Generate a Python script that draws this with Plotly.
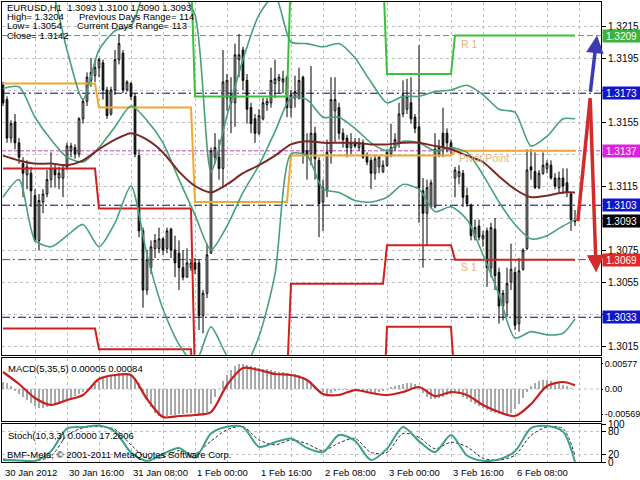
import plotly.graph_objects as go

# ---------------- DATA ----------------
N = 144
bars = list(range(N))

opens = [
    1.3178, 1.3169, 1.3145, 1.3155, 1.3142, 1.3129, 1.3122, 1.3123,
    1.3109, 1.3081, 1.3105, 1.3110, 1.3119, 1.3126, 1.3120, 1.3120,
    1.3127, 1.3137, 1.3139, 1.3135, 1.3157, 1.3168, 1.3181, 1.3184,
    1.3189, 1.3192, 1.3175, 1.3160, 1.3175, 1.3194, 1.3198, 1.3175,
    1.3179, 1.3171, 1.3134, 1.3087, 1.3050, 1.3064, 1.3076, 1.3076,
    1.3082, 1.3076, 1.3088, 1.3075, 1.3073, 1.3064, 1.3058, 1.3064,
    1.3067, 1.3067, 1.3034, 1.3048, 1.3073, 1.3133, 1.3133, 1.3126,
    1.3170, 1.3172, 1.3167, 1.3194, 1.3200, 1.3181, 1.3164, 1.3157,
    1.3148, 1.3157, 1.3166, 1.3167, 1.3179, 1.3181, 1.3180, 1.3183,
    1.3164, 1.3170, 1.3170, 1.3183, 1.3137, 1.3135, 1.3148, 1.3131,
    1.3105, 1.3112, 1.3136, 1.3162, 1.3164, 1.3148, 1.3145, 1.3139,
    1.3142, 1.3139, 1.3142, 1.3134, 1.3131, 1.3123, 1.3127, 1.3124,
    1.3128, 1.3135, 1.3139, 1.3142, 1.3160, 1.3163, 1.3167, 1.3158,
    1.3152, 1.3112, 1.3098, 1.3102, 1.3102, 1.3135, 1.3148, 1.3148,
    1.3142, 1.3120, 1.3121, 1.3123, 1.3109, 1.3103, 1.3083, 1.3090,
    1.3082, 1.3087, 1.3064, 1.3088, 1.3061, 1.3040, 1.3042, 1.3055,
    1.3061, 1.3029, 1.3063, 1.3076, 1.3127, 1.3124, 1.3114, 1.3123,
    1.3126, 1.3128, 1.3120, 1.3114, 1.3120, 1.3117, 1.3110, 1.3093,
]
highs = [
    1.3180, 1.3171, 1.3156, 1.3160, 1.3145, 1.3133, 1.3131, 1.3127,
    1.3113, 1.3110, 1.3113, 1.3125, 1.3136, 1.3129, 1.3127, 1.3128,
    1.3142, 1.3142, 1.3141, 1.3158, 1.3170, 1.3186, 1.3195, 1.3194,
    1.3195, 1.3194, 1.3177, 1.3177, 1.3200, 1.3210, 1.3200, 1.3181,
    1.3180, 1.3173, 1.3138, 1.3089, 1.3075, 1.3081, 1.3085, 1.3089,
    1.3083, 1.3089, 1.3089, 1.3084, 1.3081, 1.3075, 1.3076, 1.3069,
    1.3070, 1.3069, 1.3050, 1.3079, 1.3139, 1.3148, 1.3144, 1.3200,
    1.3185, 1.3183, 1.3204, 1.3210, 1.3202, 1.3185, 1.3167, 1.3160,
    1.3163, 1.3170, 1.3170, 1.3189, 1.3194, 1.3185, 1.3187, 1.3184,
    1.3175, 1.3184, 1.3189, 1.3184, 1.3148, 1.3190, 1.3152, 1.3133,
    1.3119, 1.3144, 1.3183, 1.3183, 1.3167, 1.3151, 1.3147, 1.3148,
    1.3145, 1.3145, 1.3144, 1.3136, 1.3133, 1.3134, 1.3134, 1.3131,
    1.3138, 1.3154, 1.3148, 1.3167, 1.3181, 1.3182, 1.3183, 1.3160,
    1.3203, 1.3120, 1.3119, 1.3119, 1.3148, 1.3144, 1.3164, 1.3151,
    1.3144, 1.3127, 1.3128, 1.3125, 1.3114, 1.3104, 1.3094, 1.3094,
    1.3087, 1.3089, 1.3092, 1.3095, 1.3064, 1.3050, 1.3064, 1.3079,
    1.3064, 1.3070, 1.3076, 1.3138, 1.3138, 1.3136, 1.3125, 1.3136,
    1.3131, 1.3131, 1.3123, 1.3124, 1.3126, 1.3126, 1.3111, 1.3100,
]
lows = [
    1.3165, 1.3142, 1.3142, 1.3138, 1.3129, 1.3108, 1.3113, 1.3102,
    1.3080, 1.3075, 1.3098, 1.3108, 1.3114, 1.3114, 1.3113, 1.3108,
    1.3125, 1.3133, 1.3132, 1.3133, 1.3154, 1.3165, 1.3177, 1.3180,
    1.3183, 1.3169, 1.3157, 1.3159, 1.3172, 1.3191, 1.3173, 1.3174,
    1.3169, 1.3133, 1.3083, 1.3039, 1.3047, 1.3060, 1.3070, 1.3073,
    1.3072, 1.3073, 1.3070, 1.3058, 1.3050, 1.3056, 1.3058, 1.3062,
    1.3060, 1.3025, 1.3023, 1.3045, 1.3073, 1.3129, 1.3119, 1.3114,
    1.3162, 1.3148, 1.3152, 1.3183, 1.3175, 1.3154, 1.3148, 1.3142,
    1.3147, 1.3156, 1.3162, 1.3164, 1.3170, 1.3173, 1.3173, 1.3158,
    1.3158, 1.3164, 1.3169, 1.3129, 1.3119, 1.3128, 1.3119, 1.3083,
    1.3087, 1.3108, 1.3129, 1.3142, 1.3144, 1.3139, 1.3133, 1.3135,
    1.3139, 1.3137, 1.3132, 1.3128, 1.3113, 1.3119, 1.3123, 1.3123,
    1.3127, 1.3133, 1.3137, 1.3139, 1.3158, 1.3160, 1.3154, 1.3148,
    1.3092, 1.3064, 1.3078, 1.3101, 1.3101, 1.3133, 1.3133, 1.3136,
    1.3135, 1.3108, 1.3116, 1.3102, 1.3102, 1.3081, 1.3081, 1.3081,
    1.3077, 1.3052, 1.3058, 1.3050, 1.3029, 1.3031, 1.3033, 1.3050,
    1.3025, 1.3024, 1.3062, 1.3075, 1.3119, 1.3113, 1.3113, 1.3122,
    1.3123, 1.3119, 1.3113, 1.3111, 1.3110, 1.3108, 1.3087, 1.3090,
]
closes = [
    1.3167, 1.3145, 1.3154, 1.3142, 1.3133, 1.3123, 1.3127, 1.3112,
    1.3081, 1.3106, 1.3110, 1.3119, 1.3126, 1.3122, 1.3123, 1.3126,
    1.3140, 1.3140, 1.3135, 1.3157, 1.3168, 1.3183, 1.3186, 1.3189,
    1.3194, 1.3175, 1.3159, 1.3175, 1.3194, 1.3204, 1.3175, 1.3180,
    1.3171, 1.3135, 1.3087, 1.3050, 1.3069, 1.3077, 1.3081, 1.3082,
    1.3075, 1.3087, 1.3075, 1.3067, 1.3064, 1.3058, 1.3067, 1.3067,
    1.3063, 1.3034, 1.3048, 1.3072, 1.3137, 1.3139, 1.3126, 1.3180,
    1.3181, 1.3167, 1.3197, 1.3197, 1.3181, 1.3163, 1.3154, 1.3148,
    1.3159, 1.3167, 1.3168, 1.3181, 1.3182, 1.3183, 1.3182, 1.3164,
    1.3172, 1.3174, 1.3181, 1.3135, 1.3134, 1.3148, 1.3132, 1.3104,
    1.3114, 1.3136, 1.3169, 1.3169, 1.3148, 1.3144, 1.3139, 1.3142,
    1.3140, 1.3142, 1.3133, 1.3130, 1.3123, 1.3132, 1.3133, 1.3128,
    1.3136, 1.3139, 1.3144, 1.3160, 1.3172, 1.3171, 1.3157, 1.3151,
    1.3114, 1.3098, 1.3114, 1.3117, 1.3138, 1.3139, 1.3139, 1.3142,
    1.3139, 1.3125, 1.3124, 1.3108, 1.3104, 1.3084, 1.3089, 1.3083,
    1.3084, 1.3064, 1.3089, 1.3059, 1.3040, 1.3048, 1.3054, 1.3063,
    1.3028, 1.3062, 1.3075, 1.3125, 1.3125, 1.3114, 1.3123, 1.3128,
    1.3129, 1.3120, 1.3115, 1.3120, 1.3115, 1.3111, 1.3094, 1.3093,
]

# indicator lines, read every 4th bar
sample_bars = [0, 4, 8, 12, 16, 20, 24, 28, 32, 36, 40, 44, 48, 52, 56, 60, 64, 68,
               72, 76, 80, 84, 88, 92, 96, 100, 104, 108, 112, 116, 120, 124, 128,
               132, 136, 140, 143]
bb_upper = [1.3256, 1.3253, 1.3247, 1.3238, 1.3200, 1.3169, 1.3200, 1.3212, 1.3215,
            1.3240, 1.3246, 1.3238, 1.3222, 1.3124, 1.3159, 1.3194, 1.3222, 1.3234,
            1.3205, 1.3204, 1.3202, 1.3204, 1.3195, 1.3180, 1.3167, 1.3171, 1.3171,
            1.3174, 1.3175, 1.3178, 1.3172, 1.3163, 1.3161, 1.3140, 1.3146, 1.3157,
            1.3157]
bb_middle = [1.3176, 1.3177, 1.3158, 1.3144, 1.3133, 1.3130, 1.3139, 1.3152, 1.3165,
             1.3156, 1.3142, 1.3119, 1.3097, 1.3075, 1.3090, 1.3111, 1.3128, 1.3149,
             1.3170, 1.3169, 1.3158, 1.3158, 1.3151, 1.3142, 1.3137, 1.3143, 1.3142,
             1.3137, 1.3139, 1.3136, 1.3122, 1.3105, 1.3091, 1.3082, 1.3084, 1.3090,
             1.3094]
bb_lower = [1.3108, 1.3119, 1.3081, 1.3077, 1.3084, 1.3091, 1.3077, 1.3092, 1.3115,
            1.3072, 1.3038, 1.3016, 1.3004, 1.3027, 1.3009, 1.3001, 1.3021, 1.3060,
            1.3135, 1.3134, 1.3113, 1.3111, 1.3106, 1.3105, 1.3108, 1.3116, 1.3113,
            1.3099, 1.3102, 1.3094, 1.3072, 1.3047, 1.3020, 1.3024, 1.3022, 1.3023,
            1.3032]
ma_slow = [1.3134, 1.3131, 1.3129, 1.3129, 1.3128, 1.3131, 1.3138, 1.3144, 1.3148,
           1.3144, 1.3136, 1.3124, 1.3115, 1.3111, 1.3116, 1.3123, 1.3128, 1.3134,
           1.3141, 1.3143, 1.3142, 1.3142, 1.3142, 1.3141, 1.3141, 1.3142, 1.3142,
           1.3140, 1.3138, 1.3134, 1.3130, 1.3121, 1.3113, 1.3108, 1.3109, 1.3111,
           1.3111]

# daily pivot levels (first bar of each day segment, level per segment)
day_start = [0, 24, 48, 72, 96, 113]
pivot_pp = [1.3179, 1.3164, 1.3105, 1.3134, 1.3134, 1.3137]
pivot_r1 = [1.3250, 1.3250, 1.3171, 1.3250, 1.3185, 1.3209]
pivot_s1 = [1.3126, 1.3101, 1.2995, 1.3054, 1.3078, 1.3069]
pivot_s2 = [1.3026, 1.3013, 1.2960, 1.2970, 1.3027, 1.2990]

# current horizontal levels shown on the price scale
level_r1 = 1.3209
level_m_hi = 1.3173
level_pp = 1.3137
level_m_mid = 1.3103
level_s1 = 1.3069
level_m_lo = 1.3033
last_close = 1.3093
arrow_down_tip = 1.3061

price_ticks = [1.3015, 1.3035, 1.3055, 1.3075, 1.3095, 1.3115, 1.3135, 1.3155,
               1.3175, 1.3195, 1.3215]
price_tick_text = ["1.3015", "", "1.3055", "1.3075", "", "1.3115", "", "1.3155",
                   "", "1.3195", "1.3215"]

macd_hist = [
    0.00158, 0.00135, 0.00068, -0.00045, -0.00113, -0.00180, -0.00248, -0.00315,
    -0.00383, -0.00428, -0.00428, -0.00405, -0.00383, -0.00338, -0.00293, -0.00270,
    -0.00248, -0.00203, -0.00158, -0.00113, -0.00068, -0.00023, 0.00045, 0.00113,
    0.00180, 0.00248, 0.00293, 0.00315, 0.00338, 0.00360, 0.00360, 0.00360,
    0.00315, 0.00248, 0.00135, -0.00045, -0.00225, -0.00405, -0.00540, -0.00608,
    -0.00630, -0.00608, -0.00585, -0.00585, -0.00563, -0.00563, -0.00540, -0.00540,
    -0.00540, -0.00563, -0.00563, -0.00518, -0.00338, -0.00180, 0.00000, 0.00180,
    0.00315, 0.00428, 0.00518, 0.00563, 0.00563, 0.00540, 0.00518, 0.00495,
    0.00473, 0.00450, 0.00450, 0.00428, 0.00405, 0.00383, 0.00383, 0.00360,
    0.00338, 0.00338, 0.00315, 0.00270, 0.00203, 0.00135, 0.00068, 0.00000,
    -0.00068, -0.00113, -0.00090, -0.00045, -0.00023, -0.00023, -0.00023, 0.00000,
    -0.00023, -0.00045, -0.00045, -0.00068, -0.00090, -0.00090, -0.00068, -0.00045,
    0.00000, 0.00045, 0.00068, 0.00090, 0.00113, 0.00135, 0.00135, 0.00113,
    0.00023, -0.00090, -0.00180, -0.00225, -0.00225, -0.00203, -0.00180, -0.00135,
    -0.00113, -0.00090, -0.00113, -0.00180, -0.00225, -0.00293, -0.00338, -0.00383,
    -0.00428, -0.00473, -0.00518, -0.00540, -0.00563, -0.00585, -0.00585, -0.00540,
    -0.00450, -0.00338, -0.00203, -0.00068, 0.00068, 0.00135, 0.00180, 0.00203,
    0.00203, 0.00180, 0.00158, 0.00135, 0.00090, 0.00068, 0.00023, 0.00005,
]
macd_signal = [0.00383, 0.00113, -0.00203, -0.00360, -0.00248, -0.00135, 0.00225,
               0.00315, 0.00315, -0.00225, -0.00630, -0.00608, -0.00585, -0.00518,
               0.00090, 0.00473, 0.00428, 0.00338, 0.00315, 0.00203, -0.00113,
               -0.00135, -0.00023, -0.00090, -0.00135, -0.00068, 0.00045, -0.00158,
               -0.00068, -0.00135, -0.00360, -0.00518, -0.00608, -0.00338, 0.00068,
               0.00158, 0.00084]
macd_ticks = [0.00577, 0.0, -0.00569]
macd_tick_text = ["0.00577", "0.00", "-0.00569"]

stoch_main = [5, 4, 3, 28, 88, 92, 96, 80, 25, 3, 21, 37, 11, 75, 93, 92, 40, 52, 62,
              37, 26, 71, 56, 5, 35, 92, 55, 26, 71, 17, 3, 7, 28, 89, 95, 80, 0]
stoch_signal = [8, 4, 3, 15, 70, 90, 93, 86, 45, 10, 12, 30, 22, 55, 85, 93, 58, 45,
                58, 48, 30, 50, 62, 25, 25, 75, 65, 35, 52, 40, 10, 5, 18, 70, 92, 88,
                17.28]

time_labels = ["30 Jan 2012", "30 Jan 16:00", "31 Jan 08:00", "1 Feb 00:00",
               "1 Feb 16:00", "2 Feb 08:00", "3 Feb 00:00", "3 Feb 16:00",
               "6 Feb 08:00"]
label_bars = [0, 16, 32, 48, 64, 80, 96, 112, 128]
grid_bars = [0, 8, 16, 24, 32, 40, 48, 56, 64, 72, 80, 88, 96, 104, 112, 120, 128,
             136, 144]

for _name, _arr in [("opens", opens), ("highs", highs), ("lows", lows),
                    ("closes", closes), ("macd_hist", macd_hist)]:
    if len(_arr) != N:
        raise ValueError(f"{_name} has {len(_arr)} values")
for _name, _arr in [("bb_upper", bb_upper), ("bb_middle", bb_middle), ("bb_lower", bb_lower),
                    ("ma_slow", ma_slow), ("macd_signal", macd_signal),
                    ("stoch_main", stoch_main), ("stoch_signal", stoch_signal)]:
    if len(_arr) != len(sample_bars):
        raise ValueError(f"{_name} has {len(_arr)} values")


def per_bar(levels):
    out = []
    for i in bars:
        d = 0
        for k, s in enumerate(day_start):
            if s <= i:
                d = k
        out.append(levels[d])
    return out


# ---------------- LAYOUT GEOMETRY ----------------
W, H = 640, 480
ML, MR, MT, MB = 2, 39, 2, 18
PW = W - ML - MR
PH = H - MT - MB


def fy(Y):
    return (H - MB - Y) / PH


def fx(X):
    return (X - ML) / PW


FONT = "Liberation Sans, Arial, sans-serif"
FS = 9.5
FS_AX = 10
GRID = "#c0c0c0"
GDASH = "3px,3px"

fig = go.Figure()

# candles
fig.add_trace(go.Candlestick(
    x=bars, open=opens, high=highs, low=lows, close=closes,
    increasing=dict(line=dict(color="black", width=1), fillcolor="white"),
    decreasing=dict(line=dict(color="black", width=1), fillcolor="#1c3d1c"),
    whiskerwidth=0, xaxis="x", yaxis="y", showlegend=False, hoverinfo="skip"))

# pivot step lines
for lv, col in [(pivot_pp, "#f0a830"), (pivot_r1, "#3cbf3c"),
                (pivot_s1, "#d02020"), (pivot_s2, "#d02020")]:
    fig.add_trace(go.Scatter(x=bars, y=per_bar(lv), mode="lines",
                             line=dict(color=col, width=2), xaxis="x", yaxis="y",
                             showlegend=False, hoverinfo="skip"))

# bollinger + slow MA
for arr in (bb_upper, bb_middle, bb_lower):
    fig.add_trace(go.Scatter(x=sample_bars, y=arr, mode="lines",
                             line=dict(color="#46a078", width=1.6, shape="spline", smoothing=0.7),
                             xaxis="x", yaxis="y", showlegend=False, hoverinfo="skip"))
fig.add_trace(go.Scatter(x=sample_bars, y=ma_slow, mode="lines",
                         line=dict(color="#7c2626", width=2, shape="spline", smoothing=0.7),
                         xaxis="x", yaxis="y", showlegend=False, hoverinfo="skip"))

# red up-leg of the projection arrow
fig.add_trace(go.Scatter(x=[143.7, 146.8], y=[last_close, level_m_hi - 0.0003], mode="lines",
                         line=dict(color="#d42a2a", width=3.5), xaxis="x", yaxis="y",
                         showlegend=False, hoverinfo="skip"))

# MACD
fig.add_trace(go.Bar(x=bars, y=macd_hist, xaxis="x2", yaxis="y2", width=0.45,
                     marker=dict(color="#a8a8a8", line=dict(width=0)),
                     showlegend=False, hoverinfo="skip"))
fig.add_trace(go.Scatter(x=sample_bars, y=macd_signal, mode="lines", xaxis="x2", yaxis="y2",
                         line=dict(color="#c81e1e", width=2.2, shape="spline", smoothing=0.8),
                         showlegend=False, hoverinfo="skip"))

# Stochastic
fig.add_trace(go.Scatter(x=sample_bars, y=stoch_signal, mode="lines", xaxis="x3", yaxis="y3",
                         line=dict(color="#303030", width=1, dash="3px,2px", shape="spline", smoothing=0.8),
                         showlegend=False, hoverinfo="skip"))
fig.add_trace(go.Scatter(x=sample_bars, y=stoch_main, mode="lines", xaxis="x3", yaxis="y3",
                         line=dict(color="#3a9f8c", width=2, shape="spline", smoothing=0.8),
                         showlegend=False, hoverinfo="skip"))

# ---------------- SHAPES ----------------
shapes = []
for v, col, dash in [(level_r1, "#3cb43c", "6px,3px"), (level_m_hi, "#000080", "8px,3px,2px,3px"),
                     (level_pp, "#c040c0", "4px,2px"), (level_m_mid, "#000080", "8px,3px,2px,3px"),
                     (level_s1, "#b03030", "8px,3px,2px,3px"), (level_m_lo, "#000080", "8px,3px,2px,3px")]:
    shapes.append(dict(type="line", xref="paper", x0=0, x1=1, yref="y", y0=v, y1=v,
                       line=dict(color=col, width=1, dash=dash), layer="below"))
shapes.append(dict(type="line", xref="paper", x0=0, x1=1, yref="y2", y0=0, y1=0,
                   line=dict(color=GRID, width=1, dash=GDASH), layer="below"))

# ---------------- ANNOTATIONS ----------------
ann = []


def txt(s, X, Y, color="black", size=FS):
    ann.append(dict(text=s, xref="paper", yref="paper", x=fx(X), y=fy(Y), xanchor="left",
                    yanchor="middle", showarrow=False,
                    font=dict(family=FONT, size=size, color=color)))


txt("EURUSD,H1\u00a0\u00a01.3093 1.3100 1.3090 1.3093", 5, 7)
txt("High= 1.3204", 5, 16)
txt("Previous Days Range= 114", 77, 16)
txt("Low= 1.3054", 5, 25.5)
txt("Current Days Range= 113", 75, 25.5)
txt("Close= 1.3142", 5, 35)
txt("R 1", 459, 44, "#e8b478", 10.5)
txt("Pivot Point", 457, 158, "#e8b478", 10.5)
txt("S 1", 459, 267, "#e8b478", 10.5)
txt("MACD(5,35,5) 0.00005 0.00084", 6, 368)
txt("Stoch(10,3,3) 0.0000 17.2806", 6, 435)
txt("BMF-Meta, \u00a9 2001-2011 MetaQuotes Software Corp.", 5, 454)

for b, s in zip(label_bars, time_labels):
    ann.append(dict(text=s, xref="paper", yref="paper", x=fx(3 + 4 * b), y=fy(472),
                    xanchor="left", yanchor="middle", showarrow=False,
                    font=dict(family=FONT, size=FS, color="black")))

for v, col in [(level_r1, "#3cb43c"), (level_m_hi, "#1414c8"), (level_pp, "#e020e0"),
               (level_m_mid, "#1414c8"), (last_close, "#000000"), (level_s1, "#e02828"),
               (level_m_lo, "#1414c8")]:
    ann.append(dict(text=f"{v:.4f}", xref="paper", yref="y", x=1, y=v, xanchor="left",
                    yanchor="middle", xshift=1, showarrow=False, bgcolor=col,
                    borderpad=0, width=37, height=12, align="center",
                    font=dict(family=FONT, size=FS_AX, color="white")))

# projection arrows
ann.append(dict(text="", xref="x", yref="y", axref="x", ayref="y", x=148.3, y=arrow_down_tip,
                ax=146.8, ay=level_m_hi - 0.0003, showarrow=True, arrowhead=2, arrowsize=1,
                arrowwidth=3.5, arrowcolor="#d42a2a", standoff=0))
ann.append(dict(text="", xref="x", yref="y", axref="x", ayref="y", x=148.5, y=level_r1,
                ax=146.8, ay=level_m_hi, showarrow=True, arrowhead=2, arrowsize=1,
                arrowwidth=3.5, arrowcolor="#3a3ab4", standoff=0))

# ---------------- AXES ----------------
xcommon = dict(range=[-0.25, 149.5], tickvals=grid_bars, showticklabels=False, ticks="",
               showgrid=True, gridcolor=GRID, griddash=GDASH, gridwidth=1, zeroline=False,
               showline=True, mirror=True, linecolor="black", linewidth=1, fixedrange=True,
               automargin=False)


def ycommon(size, tlen):
    return dict(side="right", showline=True, mirror=True, linecolor="black", linewidth=1,
                ticks="outside", ticklen=tlen, tickcolor="black", zeroline=False,
                ticklabelstandoff=0, automargin=False,
                tickfont=dict(family=FONT, size=size, color="black"), fixedrange=True)


fig.update_layout(
    width=W, height=H, autosize=False,
    margin=dict(l=ML, r=MR, t=MT, b=MB, pad=0, autoexpand=False),
    paper_bgcolor="white", plot_bgcolor="white",
    showlegend=False, hovermode=False, boxgap=0.4,
    font=dict(family=FONT, size=FS, color="black"),
    xaxis=dict(domain=[0, 1], anchor="y", rangeslider=dict(visible=False), **xcommon),
    xaxis2=dict(domain=[0, 1], anchor="y2", **xcommon),
    xaxis3=dict(domain=[0, 1], anchor="y3", **xcommon),
    yaxis=dict(domain=[fy(355), 1], range=[1.30094, 1.32300], tickvals=price_ticks,
               ticktext=price_tick_text, showgrid=True, gridcolor=GRID, griddash=GDASH,
               **ycommon(FS_AX, 4)),
    yaxis2=dict(domain=[fy(421), fy(358)], range=[-0.0072, 0.00698], tickvals=macd_ticks,
                ticktext=macd_tick_text, showgrid=False, **ycommon(9, 1)),
    yaxis3=dict(domain=[0, fy(424)], range=[0, 100], tickvals=[0, 20, 80, 100],
                ticktext=["0", "20", "80", "100"], showgrid=True, gridcolor=GRID,
                griddash=GDASH, **ycommon(FS_AX, 4)),
    shapes=shapes,
    annotations=ann,
    bargap=0,
)

fig.write_html("out.html", config={"displayModeBar": False, "staticPlot": True},
               post_script="document.body.style.margin='0';document.body.style.padding='0';"
                           "document.body.style.overflow='hidden';")
